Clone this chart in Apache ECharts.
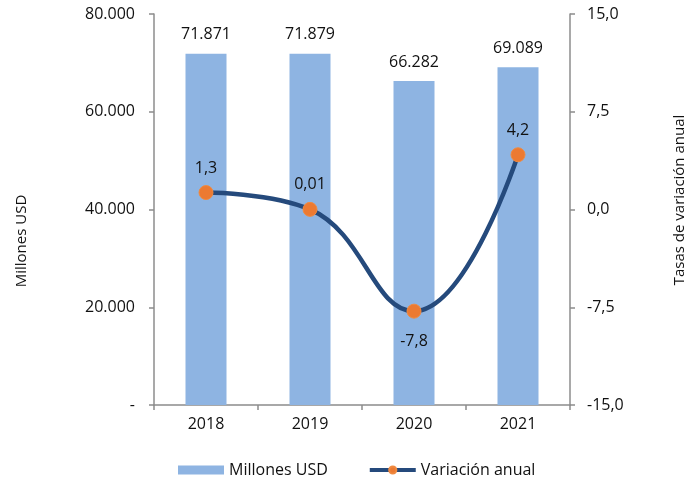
<!DOCTYPE html>
<html>
<head>
<meta charset="utf-8">
<script src="https://cdn.jsdelivr.net/npm/echarts@6/dist/echarts.min.js"></script>
<style>
  html, body { margin: 0; padding: 0; background: #fff; }
  #chart { width: 688px; height: 491px; }
</style>
</head>
<body>
<div id="chart"></div>
<script>
// Exportaciones: valor en millones USD y variación anual (%)
const years = ['2018', '2019', '2020', '2021'];
const millonesUSD = [71871, 71879, 66282, 69089];
const variacionAnual = [1.3, 0.01, -7.8, 4.2];
const variacionLabels = ['1,3', '0,01', '-7,8', '4,2'];

const FONT = '"Open Sans", "Noto Sans", sans-serif';
const TEXT = '#111111';
const AXIS = '#8c8c8c';
const FS = 16;

function fmtMiles(v) {
  if (v === 0) return '-';
  return String(Math.round(v)).replace(/\B(?=(\d{3})+(?!\d))/g, '.');
}
function fmtTasa(v) {
  return v.toFixed(1).replace('.', ',');
}

const chart = echarts.init(document.getElementById('chart'), null, { renderer: 'canvas' });
chart.setOption({
  animation: false,
  backgroundColor: '#ffffff',
  textStyle: { fontFamily: FONT },
  grid: { left: 154, right: 118, top: 14, bottom: 86 },
  legend: {
    top: 457,
    left: 173,
    itemGap: 40,
    itemWidth: 46,
    itemHeight: 9,
    textStyle: { fontFamily: FONT, fontSize: FS, color: TEXT },
    data: [
      { name: 'Millones USD', icon: 'rect' },
      { name: 'Variación anual', lineStyle: { width: 4 } }
    ]
  },
  // Títulos de los ejes verticales
  graphic: [
    {
      type: 'text',
      x: 22, y: 241,
      rotation: Math.PI / 2,
      style: {
        text: 'Millones USD',
        font: '15px ' + FONT,
        fill: TEXT,
        align: 'center',
        verticalAlign: 'middle'
      }
    },
    {
      type: 'text',
      x: 680, y: 200,
      rotation: Math.PI / 2,
      style: {
        text: 'Tasas de variación anual',
        font: '15px ' + FONT,
        fill: TEXT,
        align: 'center',
        verticalAlign: 'middle'
      }
    }
  ],
  xAxis: {
    type: 'category',
    data: years,
    boundaryGap: true,
    axisLine: { lineStyle: { color: AXIS, width: 1.5 } },
    axisTick: { show: true, length: 5, lineStyle: { color: AXIS, width: 1.5 } },
    axisLabel: { fontFamily: FONT, fontSize: FS, color: TEXT, margin: 11 }
  },
  yAxis: [
    {
      type: 'value',
      min: 0, max: 80000, interval: 20000,
      axisLine: { show: true, lineStyle: { color: AXIS, width: 1.5 } },
      axisTick: { show: true, length: 5, lineStyle: { color: AXIS, width: 1.5 } },
      splitLine: { show: false },
      axisLabel: { fontFamily: FONT, fontSize: FS, color: TEXT, margin: 19, formatter: fmtMiles }
    },
    {
      type: 'value',
      min: -15, max: 15, interval: 7.5,
      axisLine: { show: true, lineStyle: { color: AXIS, width: 1.5 } },
      axisTick: { show: true, length: 5, lineStyle: { color: AXIS, width: 1.5 } },
      splitLine: { show: false },
      axisLabel: { fontFamily: FONT, fontSize: FS, color: TEXT, margin: 17, formatter: fmtTasa }
    }
  ],
  series: [
    {
      name: 'Millones USD',
      type: 'bar',
      yAxisIndex: 0,
      data: millonesUSD,
      barWidth: 41,
      itemStyle: { color: '#8eb4e2' },
      label: {
        show: true,
        position: 'top',
        distance: 11,
        fontFamily: FONT,
        fontSize: FS,
        color: TEXT,
        formatter: p => fmtMiles(p.value)
      }
    },
    {
      name: 'Variación anual',
      type: 'line',
      yAxisIndex: 1,
      data: variacionAnual.map(v => ({
        value: v,
        label: { position: v < 0 ? 'bottom' : 'top', distance: v < 0 ? 15 : 9 }
      })),
      smooth: 0.45,
      symbol: 'circle',
      symbolSize: 14,
      lineStyle: { color: '#254a7c', width: 4.5 },
      itemStyle: { color: '#ec7a32', borderColor: '#f08a40', borderWidth: 1 },
      label: {
        show: true,
        fontFamily: FONT,
        fontSize: FS,
        color: TEXT,
        formatter: p => variacionLabels[p.dataIndex]
      },
      z: 5
    }
  ]
});
</script>
</body>
</html>
